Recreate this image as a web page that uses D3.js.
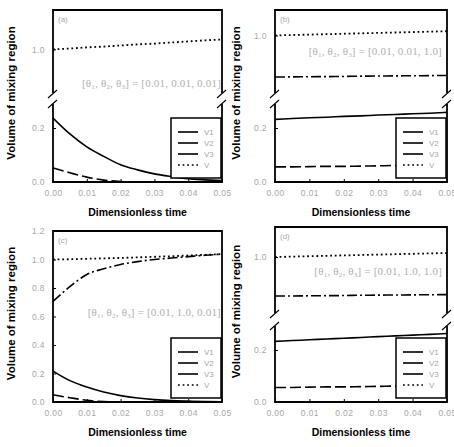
<!DOCTYPE html>
<html>
<head>
<meta charset="utf-8">
<script src="https://cdn.jsdelivr.net/npm/d3@7"></script>
<style>
  body { margin: 0; background: #fff; }
  svg { display: block; }
</style>
</head>
<body>
<div id="chart"></div>
<script>
// time samples and ticks
var t = [0, 0.005, 0.01, 0.015, 0.02, 0.025, 0.03, 0.035, 0.04, 0.045, 0.05];
var xTicks = [0, 0.01, 0.02, 0.03, 0.04, 0.05];
var seriesNames = ["V1", "V2", "V3", "V"];

// (a) theta = [0.01, 0.01, 0.01]
var aV1 = [0.237, 0.178, 0.130, 0.095, 0.064, 0.045, 0.030, 0.020, 0.012, 0.008, 0.005];
var aV2 = [0.052, 0.034, 0.018, 0.007, 0.002, 0, 0, 0, 0, 0, 0];
var aV  = [1.0, 1.003, 1.007, 1.010, 1.014, 1.018, 1.021, 1.025, 1.029, 1.033, 1.036];

// (b) theta = [0.01, 0.01, 1.0]
var bV1 = [0.232, 0.235, 0.238, 0.240, 0.243, 0.245, 0.248, 0.250, 0.253, 0.255, 0.258];
var bV2 = [0.056, 0.056, 0.057, 0.058, 0.058, 0.059, 0.060, 0.061, 0.061, 0.062, 0.063];
var bV3 = [0.706, 0.707, 0.708, 0.709, 0.710, 0.712, 0.713, 0.714, 0.715, 0.716, 0.717];
var bV  = [1.0, 1.003, 1.006, 1.009, 1.012, 1.015, 1.018, 1.021, 1.024, 1.027, 1.030];

// (c) theta = [0.01, 1.0, 0.01]
var cV1 = [0.217, 0.150, 0.105, 0.070, 0.045, 0.028, 0.017, 0.010, 0.006, 0.003, 0.002];
var cV2 = [0.050, 0.030, 0.012, 0.003, 0, 0, 0, 0, 0, 0, 0];
var cV3 = [0.706, 0.810, 0.895, 0.935, 0.965, 0.985, 1.000, 1.010, 1.020, 1.030, 1.037];
var cV  = [1.0, 1.002, 1.005, 1.008, 1.011, 1.015, 1.019, 1.023, 1.028, 1.033, 1.038];

// (d) theta = [0.01, 1.0, 1.0]
var dV1 = [0.233, 0.236, 0.239, 0.242, 0.245, 0.248, 0.251, 0.254, 0.257, 0.260, 0.263];
var dV2 = [0.056, 0.056, 0.057, 0.058, 0.058, 0.059, 0.060, 0.061, 0.061, 0.062, 0.063];
var dV3 = [0.707, 0.708, 0.709, 0.710, 0.711, 0.713, 0.714, 0.715, 0.716, 0.717, 0.718];
var dV  = [1.0, 1.003, 1.006, 1.009, 1.012, 1.015, 1.018, 1.021, 1.024, 1.027, 1.030];

var yTicksFull = [0, 0.2, 0.4, 0.6, 0.8, 1.0, 1.2];
var yTicksLow = [0, 0.2];
var yTicksHigh = [1.0];

var styles = {
    V1: {dash: null, w: 1.6},
    V2: {dash: "11,4", w: 1.6},
    V3: {dash: "10,3,2,3", w: 1.6},
    V:  {dash: "1.8,2.8", w: 1.8}
};

var panels = [
    {label: "(a)", x0: 53, x1: 222, top: 10, bottom: 182, broken: true,
     low: [0, 0.289], lowTop: 104, high: [0.84, 1.144], highBottom: 93,
     series: {V1: aV1, V2: aV2, V: aV}, theta: ["0.01", "0.01", "0.01"], noteY: 87, noteX: 221,
     yl: 15},
    {label: "(b)", x0: 275, x1: 447, top: 10, bottom: 182, broken: true,
     low: [0, 0.289], lowTop: 104, high: [0.593, 1.18], highBottom: 93,
     series: {V1: bV1, V2: bV2, V3: bV3, V: bV}, theta: ["0.01", "0.01", "1.0"], noteY: 55, noteX: 442,
     yl: 240},
    {label: "(c)", x0: 53, x1: 222, top: 231, bottom: 402, broken: false,
     full: [0, 1.2],
     series: {V1: cV1, V2: cV2, V3: cV3, V: cV}, theta: ["0.01", "1.0", "0.01"], noteY: 316, noteX: 221,
     yl: 15},
    {label: "(d)", x0: 275, x1: 447, top: 227, bottom: 402, broken: true,
     low: [0, 0.292], lowTop: 326, high: [0.58, 1.225], highBottom: 313,
     series: {V1: dV1, V2: dV2, V3: dV3, V: dV}, theta: ["0.01", "1.0", "1.0"], noteY: 275, noteX: 442,
     yl: 240}
];

var svg = d3.select("#chart").append("svg")
    .attr("width", 454)
    .attr("height", 447);

var tickColor = "#a8a8a8";
var tickFont = "Liberation Sans, Arial, sans-serif";
var clipId = 0;

panels.forEach(function (p) {
    var g = svg.append("g");
    var x = d3.scaleLinear().domain([0, 0.05]).range([p.x0, p.x1]);

    // y segments: each is a scale + its clip region
    var segs = [];
    if (p.broken) {
        segs.push({y: d3.scaleLinear().domain(p.low).range([p.bottom, p.lowTop]), y0: p.lowTop, y1: p.bottom, ticks: yTicksLow});
        segs.push({y: d3.scaleLinear().domain(p.high).range([p.highBottom, p.top]), y0: p.top, y1: p.highBottom, ticks: yTicksHigh});
    } else {
        segs.push({y: d3.scaleLinear().domain(p.full).range([p.bottom, p.top]), y0: p.top, y1: p.bottom, ticks: yTicksFull});
    }

    // curves
    segs.forEach(function (s) {
        var id = "clip" + (clipId++);
        svg.append("clipPath").attr("id", id)
            .append("rect")
            .attr("x", p.x0).attr("y", s.y0 - 1)
            .attr("width", p.x1 - p.x0).attr("height", s.y1 - s.y0 + 2);
        var line = d3.line()
            .x(function (d, i) { return x(t[i]); })
            .y(function (d) { return s.y(d); })
            .curve(d3.curveMonotoneX);
        var cg = g.append("g").attr("clip-path", "url(#" + id + ")");
        seriesNames.forEach(function (name) {
            var vals = p.series[name];
            if (!vals) return;
            cg.append("path")
                .datum(vals)
                .attr("d", line)
                .attr("fill", "none")
                .attr("stroke", "#000")
                .attr("stroke-width", styles[name].w)
                .attr("stroke-dasharray", styles[name].dash);
        });

        // y ticks
        var ax = g.append("g")
            .attr("transform", "translate(" + p.x0 + ",0)")
            .call(d3.axisLeft(s.y).tickValues(s.ticks).tickSize(-3).tickPadding(8).tickFormat(d3.format(".1f")));
        ax.select(".domain").remove();
        ax.selectAll("line").attr("stroke", "#000");
        ax.selectAll("text").attr("fill", tickColor).style("font-family", tickFont)
            .style("font-size", "8.5px").style("letter-spacing", "0.4px");
    });

    // x axis ticks
    var xa = g.append("g")
        .attr("transform", "translate(0," + p.bottom + ")")
        .call(d3.axisBottom(x).tickValues(xTicks).tickSize(-3).tickPadding(8).tickFormat(d3.format(".2f")));
    xa.select(".domain").remove();
    xa.selectAll("line").attr("stroke", "#000");
    xa.selectAll("text").attr("fill", tickColor).style("font-family", tickFont)
        .style("font-size", "8.5px").style("letter-spacing", "0.4px");

    // frame
    var fw = 1.8;
    g.append("line").attr("x1", p.x0).attr("x2", p.x1).attr("y1", p.top).attr("y2", p.top)
        .attr("stroke", "#000").attr("stroke-width", fw);
    g.append("line").attr("x1", p.x0 - fw / 2).attr("x2", p.x1 + fw / 2).attr("y1", p.bottom).attr("y2", p.bottom)
        .attr("stroke", "#000").attr("stroke-width", fw);
    [p.x0, p.x1].forEach(function (xx) {
        if (p.broken) {
            g.append("line").attr("x1", xx).attr("x2", xx).attr("y1", p.top - fw / 2).attr("y2", p.highBottom)
                .attr("stroke", "#000").attr("stroke-width", fw);
            g.append("line").attr("x1", xx).attr("x2", xx).attr("y1", p.lowTop).attr("y2", p.bottom)
                .attr("stroke", "#000").attr("stroke-width", fw);
            [p.highBottom + 1, p.lowTop].forEach(function (yy) {
                g.append("line")
                    .attr("x1", xx - 5).attr("y1", yy + 4)
                    .attr("x2", xx + 4).attr("y2", yy - 4)
                    .attr("stroke", "#000").attr("stroke-width", 1.1);
            });
        } else {
            g.append("line").attr("x1", xx).attr("x2", xx).attr("y1", p.top - fw / 2).attr("y2", p.bottom)
                .attr("stroke", "#000").attr("stroke-width", fw);
        }
    });

    // panel label
    g.append("text")
        .attr("x", p.x0 + 5).attr("y", p.top + 12)
        .attr("fill", tickColor)
        .style("font-family", tickFont).style("font-size", "8px")
        .text(p.label);

    // theta annotation
    var note = g.append("text")
        .attr("x", p.noteX).attr("y", p.noteY)
        .attr("text-anchor", "end")
        .attr("fill", "#b0b0b0")
        .style("font-family", "Liberation Serif, Times New Roman, serif")
        .style("font-size", "11px")
        .style("letter-spacing", "0.2px");
    note.append("tspan").text("[\u03b8");
    note.append("tspan").attr("baseline-shift", "-25%").style("font-size", "7px").text("1");
    note.append("tspan").text(", \u03b8");
    note.append("tspan").attr("baseline-shift", "-25%").style("font-size", "7px").text("2");
    note.append("tspan").text(", \u03b8");
    note.append("tspan").attr("baseline-shift", "-25%").style("font-size", "7px").text("3");
    note.append("tspan").text("] = [" + p.theta.join(", ") + "]");

    // legend
    var lw = 50, lh = 60;
    var lx = p.x1 - lw - 1, ly = p.bottom - lh - 4;
    var lg = g.append("g").attr("transform", "translate(" + lx + "," + ly + ")");
    lg.append("rect").attr("width", lw).attr("height", lh)
        .attr("fill", "#fff").attr("stroke", "#000").attr("stroke-width", 1.5);
    seriesNames.forEach(function (name, i) {
        var yy = 14 + i * 11;
        lg.append("line")
            .attr("x1", 7).attr("x2", 27).attr("y1", yy).attr("y2", yy)
            .attr("stroke", "#000").attr("stroke-width", 1.6)
            .attr("stroke-dasharray", name === "V" ? styles.V.dash : null);
        lg.append("text")
            .attr("x", 33).attr("y", yy + 3)
            .attr("fill", tickColor)
            .style("font-family", tickFont).style("font-size", "8px")
            .text(name);
    });

    // axis titles
    g.append("text")
        .attr("x", (p.x0 + p.x1) / 2).attr("y", p.bottom + 34)
        .attr("text-anchor", "middle")
        .style("font-family", tickFont).style("font-size", "10.5px").style("font-weight", "bold")
        .text("Dimensionless time");
    g.append("text")
        .attr("transform", "translate(" + p.yl + "," + ((p.top + p.bottom) / 2 - 3) + ") rotate(-90)")
        .attr("text-anchor", "middle")
        .style("font-family", tickFont).style("font-size", "11.5px").style("font-weight", "bold")
        .text("Volume of mixing region");
});
</script>
</body>
</html>
